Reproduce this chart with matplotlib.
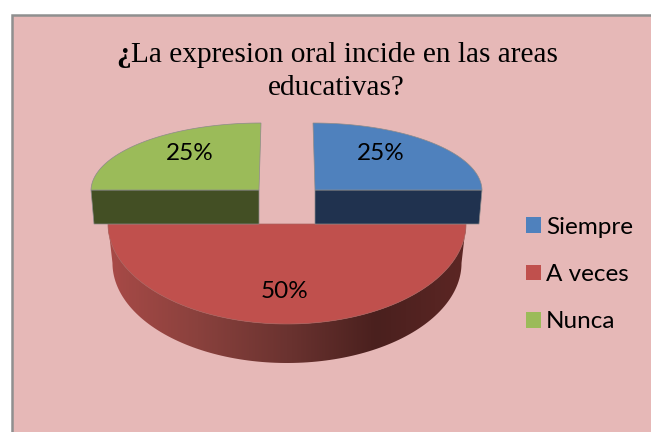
import numpy as np
import matplotlib
matplotlib.use('Agg')
import matplotlib.pyplot as plt
from matplotlib.colors import LinearSegmentedColormap
from matplotlib.patches import Patch, Polygon, Rectangle

categories = ['Siempre', 'A veces', 'Nunca']
values = [25, 50, 25]
title_mark = '¿'
title_line1 = 'La expresion oral incide en las areas'
title_line2 = 'educativas?'

# colours of each slice: top face, side wall
top_colors = ['#4f81bd', '#c0504d', '#9bbb59']
wall_colors = ['#20324f', '#6b3330', '#434f24']

# pixel geometry of each exploded slice: cx, cy, rx, ry back, ry front, depth, lean
geometry = [
    (315, 190, 167, 67, 100, 34, -2),
    (287, 224, 179, 67, 100, 39, 0),
    (259, 190, 168, 67, 100, 34, 2),
]
label_pos = [(381, 154), (285, 292), (190, 154)]

fig = plt.figure(figsize=(6.51, 4.32), dpi=100)
ax = fig.add_axes([0, 0, 1, 1])
ax.set_xlim(0, 651)
ax.set_ylim(432, 0)
ax.axis('off')

# chart area runs off the right and bottom of the picture
ax.add_patch(Rectangle((12, 15), 700, 500, facecolor='#e6b8b7', edgecolor='#8f8f8f', linewidth=1.8))


def arc(geo, start, end, n=120):
    cx, cy, rx, ry_back, ry_front, _, lean = geo
    th = np.linspace(start, end, n)
    ry = np.where(np.cos(th) > 0, ry_back, ry_front)
    shift = lean * np.clip(np.cos(th), 0, None)
    return np.column_stack([cx + rx * np.sin(th) + shift, cy - ry * np.cos(th)])


total = sum(values)
edges = np.cumsum([0] + values) / total * 2 * np.pi

for i, geo in enumerate(geometry):
    cx, cy, rx, ry_back, ry_front, depth, lean = geo
    start, end = edges[i], edges[i + 1]
    pts = arc(geo, start, end)

    if i == 1:
        # front wall, shaded from left to right
        inset = 0.975
        low = np.column_stack([cx + (pts[:, 0] - cx) * inset, pts[:, 1] + depth])
        wall = Polygon(np.vstack([pts, low[::-1]]), closed=True, facecolor='none', edgecolor='none')
        ax.add_patch(wall)
        cmap = LinearSegmentedColormap.from_list('wall', ['#a84a47', '#8a413d', '#6b3330', '#4a201e', '#5c2624'])
        img = ax.imshow(np.linspace(0, 1, 256).reshape(1, -1), cmap=cmap, aspect='auto',
                        extent=(cx - rx, cx + rx, cy + ry_front + depth, cy), zorder=2)
        img.set_clip_path(wall)
        ax.set_xlim(0, 651)
        ax.set_ylim(432, 0)
        face = np.vstack([[cx, cy], pts])
        ax.add_patch(Polygon(face, closed=True, facecolor=top_colors[i], edgecolor='#a8605c',
                             linewidth=0.5, zorder=3))
    else:
        # flat cut face in front of the slice
        far = pts[-1] if i == 0 else pts[0]
        inset = 3 if far[0] > cx else -3
        face_wall = [(cx, cy), (far[0], cy), (far[0] - inset, cy + depth), (cx, cy + depth)]
        ax.add_patch(Polygon(face_wall, closed=True, facecolor=wall_colors[i], edgecolor='#8c8a8a',
                             linewidth=0.5, zorder=4))
        face = np.vstack([[cx, cy], pts])
        ax.add_patch(Polygon(face, closed=True, facecolor=top_colors[i], edgecolor='#8c8a8a',
                             linewidth=0.5, zorder=4))

for val, (x, y) in zip(values, label_pos):
    ax.text(x, y, f'{val}%', ha='center', va='center', fontsize=17.5, family='Lato', color='black', zorder=5)

# the opening mark looks bold in the original, so it gets its own text
ax.text(131, 62, title_mark, ha='right', va='baseline', fontsize=21.2, family='Liberation Serif',
        weight='bold', color='black', zorder=5)
ax.text(131, 62, title_line1, ha='left', va='baseline', fontsize=21.2, family='Liberation Serif',
        color='black', zorder=5)
ax.text(336.5, 95, title_line2, ha='center', va='baseline', fontsize=21.2, family='Liberation Serif',
        color='black', zorder=5)

handles = [Patch(facecolor=c, edgecolor='none') for c in top_colors]
ax.legend(handles, categories, loc='center left', bbox_to_anchor=(526 / 651, 1 - 274.5 / 432), frameon=False,
          prop={'family': 'Lato', 'size': 17.5}, handlelength=0.62, handleheight=0.62,
          handletextpad=0.2, labelspacing=1.08, borderpad=0, borderaxespad=0)

fig.savefig('out.png', dpi=100)
